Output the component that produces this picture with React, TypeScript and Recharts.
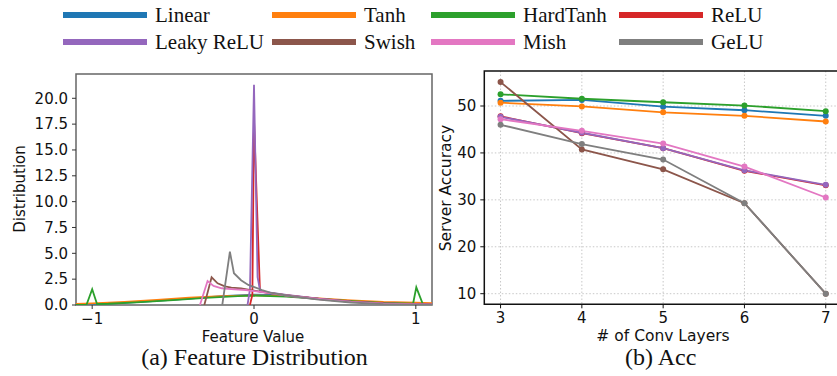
import React from "react";
import {
  LineChart,
  Line,
  XAxis,
  YAxis,
  CartesianGrid,
  ReferenceArea,
} from "recharts";

// legend / series names and colours (matplotlib tab10)
const NAMES = ["Linear", "Tanh", "HardTanh", "ReLU", "Leaky ReLU", "Swish", "Mish", "GeLU"];
const COLORS = ["#1f77b4", "#ff7f0e", "#2ca02c", "#d62728", "#9467bd", "#8c564b", "#e377c2", "#7f7f7f"];

// (a) feature distribution
const LINEAR_X = [-1.1, -1.0, -0.8, -0.6, -0.4, -0.2, 0, 0.1, 0.2, 0.4, 0.6, 0.8, 1.0, 1.1];
const LINEAR_Y = [0.03, 0.08, 0.22, 0.4, 0.62, 0.85, 1.0, 0.98, 0.88, 0.62, 0.38, 0.22, 0.13, 0.1];
const TANH_X = [-1.1, -1.0, -0.8, -0.6, -0.4, -0.2, 0, 0.2, 0.4, 0.6, 0.8, 1.0, 1.1];
const TANH_Y = [0.1, 0.15, 0.3, 0.5, 0.7, 0.85, 0.93, 0.85, 0.65, 0.45, 0.3, 0.22, 0.18];
const HARDTANH_X = [-1.1, -1.035, -1.0, -0.97, -0.9, -0.7, -0.5, -0.3, -0.1, 0, 0.2, 0.4, 0.6, 0.8, 0.983, 1.003, 1.045, 1.1];
const HARDTANH_Y = [0.0, 0.02, 1.52, 0.1, 0.12, 0.28, 0.48, 0.68, 0.85, 0.9, 0.82, 0.6, 0.38, 0.2, 0.12, 1.71, 0.02, 0.0];
const RELU_X = [-0.025, -0.01, 0.0, 0.037, 0.1, 0.2, 0.4, 0.6, 0.8, 1.0, 1.1];
const RELU_Y = [0, 1.0, 17.9, 1.3, 1.15, 0.95, 0.6, 0.32, 0.15, 0.07, 0.04];
const LEAKY_X = [-0.04, -0.025, 0.0, 0.022, 0.037, 0.06, 0.1, 0.2, 0.4, 0.6, 0.8, 1.0, 1.1];
const LEAKY_Y = [0, 1.5, 21.3, 2.7, 1.45, 1.3, 1.2, 0.98, 0.62, 0.33, 0.16, 0.08, 0.05];
const SWISH_X = [-0.307, -0.262, -0.225, -0.18, -0.14, -0.08, 0, 0.1, 0.2, 0.4, 0.6, 0.8, 1.0, 1.1];
const SWISH_Y = [0, 2.68, 2.1, 1.8, 1.68, 1.6, 1.4, 1.15, 0.92, 0.58, 0.3, 0.14, 0.06, 0.03];
const MISH_X = [-0.334, -0.287, -0.25, -0.2, -0.12, -0.05, 0, 0.1, 0.2, 0.4, 0.6, 0.8, 1.0, 1.1];
const MISH_Y = [0, 2.32, 1.84, 1.62, 1.52, 1.45, 1.35, 1.15, 0.92, 0.58, 0.3, 0.14, 0.06, 0.03];
const GELU_X = [-0.196, -0.149, -0.124, -0.08, -0.035, 0.05, 0.1, 0.2, 0.4, 0.6, 0.8, 1.0, 1.1];
const GELU_Y = [0, 5.16, 3.07, 2.4, 1.94, 1.45, 1.2, 0.92, 0.52, 0.24, 0.09, 0.02, 0.01];

const DIST_X = [LINEAR_X, TANH_X, HARDTANH_X, RELU_X, LEAKY_X, SWISH_X, MISH_X, GELU_X];
const DIST_Y = [LINEAR_Y, TANH_Y, HARDTANH_Y, RELU_Y, LEAKY_Y, SWISH_Y, MISH_Y, GELU_Y];
const DIST_YTICKS = [0, 2.5, 5, 7.5, 10, 12.5, 15, 17.5, 20];
const DIST_XTICKS = [-1, 0, 1];

// (b) server accuracy vs number of conv layers
const LAYERS = [3, 4, 5, 6, 7];
const ACC_LINEAR = [51.1, 51.3, 49.85, 49.1, 47.9];
const ACC_TANH = [50.7, 49.9, 48.65, 47.9, 46.7];
const ACC_HARDTANH = [52.5, 51.55, 50.8, 50.1, 48.9];
const ACC_RELU = [47.8, 44.2, 41.0, 36.2, 33.1];
const ACC_LEAKY = [47.7, 44.3, 41.0, 36.3, 33.2];
const ACC_SWISH = [55.1, 40.75, 36.5, 29.3, 10.0];
const ACC_MISH = [47.2, 44.7, 42.0, 37.1, 30.5];
const ACC_GELU = [46.0, 41.9, 38.6, 29.3, 10.0];
const ACC = [ACC_LINEAR, ACC_TANH, ACC_HARDTANH, ACC_RELU, ACC_LEAKY, ACC_SWISH, ACC_MISH, ACC_GELU];
const ACC_YTICKS = [10, 20, 30, 40, 50];

const accData = LAYERS.map((l, i) => {
  const row: any = { layers: l };
  NAMES.forEach((n, k) => (row[n] = ACC[k][i]));
  return row;
});

const distSeries = NAMES.map((n, k) =>
  DIST_X[k].map((x, i) => ({ x, y: DIST_Y[k][i] }))
);

const sans = "'DejaVu Sans', sans-serif";
const serif = "'Liberation Serif', 'Times New Roman', serif";
const tickStyle = { fontFamily: sans, fontSize: 15, fill: "#111" };

const legendLeft = [63, 272, 431, 619];
const legendRow = [15, 41.7];

function Caption({ x, y, size, font, text, rotate }: any) {
  return (
    <div
      style={{
        position: "absolute",
        left: x,
        top: y,
        transform: `translate(-50%, -50%)${rotate ? " rotate(-90deg)" : ""}`,
        fontFamily: font,
        fontSize: size,
        color: "#111",
        whiteSpace: "nowrap",
        lineHeight: 1,
      }}
    >
      {text}
    </div>
  );
}

export default function App() {
  return (
    <div
      style={{
        position: "absolute",
        left: 0,
        top: 0,
        width: 837,
        height: 376,
        overflow: "hidden",
        background: "#fff",
      }}
    >
      {/* legend */}
      {NAMES.map((n, k) => {
        const col = k % 4;
        const row = Math.floor(k / 4);
        return (
          <React.Fragment key={n}>
            <div
              style={{
                position: "absolute",
                left: legendLeft[col],
                top: legendRow[row] - 3,
                width: 84,
                height: 6,
                background: COLORS[k],
              }}
            />
            <div
              style={{
                position: "absolute",
                left: legendLeft[col] + 92,
                top: legendRow[row],
                transform: "translateY(-50%)",
                fontFamily: serif,
                fontSize: 21,
                lineHeight: 1,
                color: "#111",
                whiteSpace: "nowrap",
              }}
            >
              {n}
            </div>
          </React.Fragment>
        );
      })}

      {/* (a) feature distribution */}
      <div style={{ position: "absolute", left: 0, top: 0 }}>
        <LineChart
          width={440}
          height={376}
          margin={{ top: 74, right: 8, bottom: 41, left: 26 }}
        >
          <XAxis
            type="number"
            dataKey="x"
            domain={[-1.1, 1.1]}
            ticks={DIST_XTICKS}
            allowDataOverflow
            height={30}
            axisLine={false}
            tickSize={4}
            tickMargin={4}
            tickLine={{ stroke: "#333" }}
            tick={tickStyle}
            tickFormatter={(v: number) => (v < 0 ? "\u2212" + Math.abs(v) : String(v))}
          />
          <YAxis
            type="number"
            dataKey="y"
            domain={[0, 22.35]}
            ticks={DIST_YTICKS}
            allowDataOverflow
            width={50}
            axisLine={false}
            tickSize={4}
            tickMargin={4}
            tickLine={{ stroke: "#333" }}
            tick={tickStyle}
            tickFormatter={(v: number) => v.toFixed(1)}
          />
          <ReferenceArea
            x1={-1.1}
            x2={1.1}
            y1={0}
            y2={22.35}
            fill="none"
            fillOpacity={0}
            stroke="#666"
            strokeWidth={1.5}
          />
          {NAMES.map((n, k) => (
            <Line
              key={n}
              data={distSeries[k]}
              dataKey="y"
              type="linear"
              stroke={COLORS[k]}
              strokeWidth={1.8}
              dot={false}
              isAnimationActive={false}
            />
          ))}
        </LineChart>
      </div>

      {/* (b) accuracy */}
      <div style={{ position: "absolute", left: 440, top: 0 }}>
        <LineChart
          width={420}
          height={376}
          data={accData}
          margin={{ top: 71, right: 18, bottom: 41.7, left: 4.3 }}
        >
          <CartesianGrid
            stroke="#c8c8c8"
            strokeDasharray="1.5 2"
            verticalValues={LAYERS}
            horizontalValues={ACC_YTICKS}
          />
          <XAxis
            type="number"
            dataKey="layers"
            domain={[2.8, 7.2]}
            ticks={LAYERS}
            allowDataOverflow
            height={30}
            axisLine={false}
            tickSize={4}
            tickMargin={4}
            tickLine={{ stroke: "#111" }}
            tick={tickStyle}
          />
          <YAxis
            type="number"
            domain={[7.74, 57.46]}
            ticks={ACC_YTICKS}
            allowDataOverflow
            width={40}
            axisLine={false}
            tickSize={4}
            tickMargin={4}
            tickLine={{ stroke: "#111" }}
            tick={tickStyle}
          />
          <ReferenceArea
            x1={2.8}
            x2={7.2}
            y1={7.74}
            y2={57.46}
            fill="none"
            fillOpacity={0}
            stroke="#111"
            strokeWidth={1.5}
          />
          {NAMES.map((n, k) => (
            <Line
              key={n}
              dataKey={n}
              type="linear"
              stroke={COLORS[k]}
              strokeWidth={1.8}
              dot={{ r: 3, fill: COLORS[k], stroke: COLORS[k], strokeWidth: 0 }}
              isAnimationActive={false}
            />
          ))}
        </LineChart>
      </div>

      <Caption x={19.5} y={189} size={15} font={sans} text="Distribution" rotate />
      <Caption x={253} y={337} size={15} font={sans} text="Feature Value" />
      <Caption x={254.5} y={357} size={24} font={serif} text="(a) Feature Distribution" />
      <Caption x={447} y={188} size={15.5} font={sans} text="Server Accuracy" rotate />
      <Caption x={663} y={337} size={15.5} font={sans} text="# of Conv Layers" />
      <Caption x={660.7} y={357} size={24} font={serif} text="(b) Acc" />
    </div>
  );
}
